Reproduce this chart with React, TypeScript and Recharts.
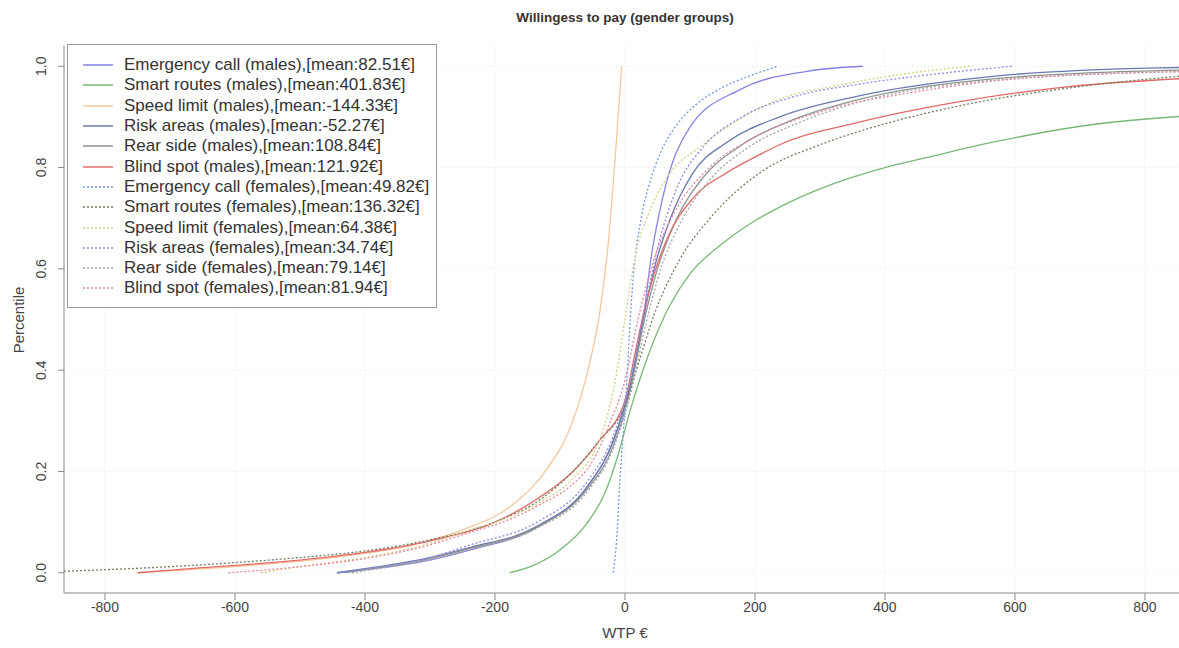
import React from 'react'
import { LineChart, Line, XAxis, YAxis, CartesianGrid } from 'recharts'

if (typeof document !== 'undefined') document.body.style.margin = '0'

// WTP values (x, €) and cumulative percentile (p)
const emergencyCallMales: [number, number][] = [
  [-443, 0], [-400, 0.006], [-300, 0.025], [-238, 0.045], [-135, 0.09], [-58, 0.17], [-18, 0.26],
  [8, 0.37], [28, 0.5], [40, 0.62], [58, 0.74], [100, 0.88], [177, 0.954], [280, 0.99], [366, 1.0],
]
const smartRoutesMales: [number, number][] = [
  [-177, 0], [-140, 0.015], [-100, 0.045], [-60, 0.095], [-30, 0.16], [-10, 0.235], [8, 0.32],
  [25, 0.39], [45, 0.46], [70, 0.53], [100, 0.59], [150, 0.65], [200, 0.695], [238, 0.722],
  [300, 0.758], [400, 0.8], [465, 0.82], [566, 0.85], [720, 0.885], [877, 0.903],
]
const speedLimitMales: [number, number][] = [
  [-750, 0], [-600, 0.012], [-450, 0.03], [-326, 0.055], [-249, 0.085], [-172, 0.135], [-120, 0.205],
  [-80, 0.3], [-55, 0.41], [-38, 0.52], [-25, 0.66], [-15, 0.82], [-5, 1.0],
]
const riskAreasMales: [number, number][] = [
  [-443, 0], [-400, 0.008], [-300, 0.03], [-238, 0.05], [-135, 0.092], [-58, 0.17], [-18, 0.26],
  [8, 0.37], [28, 0.5], [45, 0.6], [70, 0.7], [105, 0.79], [157, 0.85], [238, 0.9], [362, 0.942],
  [566, 0.98], [823, 0.997], [877, 0.998],
]
const rearSideMales: [number, number][] = [
  [-430, 0], [-400, 0.006], [-300, 0.028], [-238, 0.048], [-135, 0.09], [-58, 0.165], [-18, 0.25],
  [8, 0.36], [30, 0.5], [50, 0.6], [80, 0.7], [120, 0.78], [180, 0.845], [260, 0.895], [362, 0.935],
  [566, 0.975], [877, 0.993],
]
const blindSpotMales: [number, number][] = [
  [-750, 0], [-650, 0.01], [-500, 0.025], [-400, 0.04], [-300, 0.063], [-200, 0.1], [-130, 0.15],
  [-80, 0.2], [-40, 0.26], [0, 0.34], [15, 0.43], [30, 0.52], [45, 0.59], [65, 0.66], [105, 0.74],
  [157, 0.79], [208, 0.826], [238, 0.845], [362, 0.89], [515, 0.93], [669, 0.958], [877, 0.977],
]
const emergencyCallFemales: [number, number][] = [
  [-18, 0], [-12, 0.08], [-8, 0.176], [-3, 0.27], [3, 0.38], [8, 0.5], [14, 0.6], [25, 0.7],
  [38, 0.77], [55, 0.83], [80, 0.885], [110, 0.925], [150, 0.958], [190, 0.98], [235, 1.0],
]
const smartRoutesFemales: [number, number][] = [
  [-863, 0.003], [-800, 0.006], [-700, 0.012], [-600, 0.02], [-500, 0.03], [-400, 0.043],
  [-300, 0.065], [-200, 0.1], [-130, 0.145], [-80, 0.2], [-40, 0.26], [0, 0.33], [20, 0.41],
  [45, 0.51], [85, 0.62], [131, 0.7], [208, 0.79], [300, 0.845], [362, 0.872], [515, 0.922],
  [720, 0.963], [877, 0.983],
]
const speedLimitFemales: [number, number][] = [
  [-560, 0], [-500, 0.012], [-400, 0.03], [-300, 0.058], [-238, 0.085], [-188, 0.105], [-130, 0.14],
  [-85, 0.18], [-34, 0.28], [-12, 0.4], [0, 0.5], [15, 0.62], [40, 0.72], [70, 0.79], [115, 0.84],
  [182, 0.9], [238, 0.935], [335, 0.964], [430, 0.985], [530, 1.0],
]
const riskAreasFemales: [number, number][] = [
  [-440, 0], [-400, 0.007], [-300, 0.03], [-238, 0.055], [-135, 0.1], [-58, 0.18], [-18, 0.27],
  [8, 0.38], [30, 0.52], [50, 0.64], [80, 0.76], [120, 0.84], [180, 0.9], [260, 0.94], [362, 0.965],
  [480, 0.985], [595, 1.0],
]
const rearSideFemales: [number, number][] = [
  [-420, 0], [-400, 0.004], [-300, 0.026], [-238, 0.046], [-135, 0.088], [-58, 0.16], [-18, 0.245],
  [8, 0.35], [32, 0.49], [55, 0.6], [85, 0.69], [130, 0.775], [190, 0.84], [270, 0.89], [362, 0.93],
  [566, 0.972], [877, 0.99],
]
const blindSpotFemales: [number, number][] = [
  [-610, 0], [-500, 0.012], [-400, 0.028], [-300, 0.055], [-238, 0.08], [-188, 0.1], [-130, 0.135],
  [-85, 0.17], [-50, 0.22], [-25, 0.29], [0, 0.38], [20, 0.5], [45, 0.62], [80, 0.72], [130, 0.8],
  [200, 0.86], [300, 0.91], [450, 0.95], [600, 0.975], [877, 0.99],
]

const seriesNames = [
  'Emergency call (males),[mean:82.51€]',
  'Smart routes (males),[mean:401.83€]',
  'Speed limit (males),[mean:-144.33€]',
  'Risk areas (males),[mean:-52.27€]',
  'Rear side (males),[mean:108.84€]',
  'Blind spot (males),[mean:121.92€]',
  'Emergency call (females),[mean:49.82€]',
  'Smart routes (females),[mean:136.32€]',
  'Speed limit (females),[mean:64.38€]',
  'Risk areas (females),[mean:34.74€]',
  'Rear side (females),[mean:79.14€]',
  'Blind spot (females),[mean:81.94€]',
]
const seriesValues = [
  emergencyCallMales, smartRoutesMales, speedLimitMales, riskAreasMales, rearSideMales, blindSpotMales,
  emergencyCallFemales, smartRoutesFemales, speedLimitFemales, riskAreasFemales, rearSideFemales, blindSpotFemales,
]
const xTicks = [-800, -600, -400, -200, 0, 200, 400, 600, 800]
const yTicks = [0, 0.2, 0.4, 0.6, 0.8, 1.0]

// line look, first six solid (males), last six dotted (females)
const colors = [
  '#8583e2', '#79b779', '#f4c79c', '#6b78b0', '#8d948d', '#e46a6a',
  '#7497e6', '#6f7f5f', '#d9cd86', '#9388e4', '#a4a4a4', '#e7869b',
]

const font = '"Liberation Sans", Arial, sans-serif'

const YTick = ({ y, payload }: any) => (
  <text x={46} y={y} transform={`rotate(-90 46 ${y})`} textAnchor="middle" fontSize={14} fill="#444" fontFamily={font}>
    {payload.value.toFixed(1)}
  </text>
)

const LegendBox = () => (
  <div style={{ position: 'absolute', left: 67, top: 44, width: 370, height: 264, border: '1px solid #999', background: '#fff', boxSizing: 'border-box', paddingTop: 10 }}>
    {seriesNames.map((name, i) => (
      <div key={name} style={{ display: 'flex', alignItems: 'center', height: 20.3 }}>
        <svg width={56} height={10} style={{ flexShrink: 0 }}>
          <line x1={15} x2={45} y1={5} y2={5} stroke={colors[i]} strokeWidth={1.5} strokeDasharray={i >= 6 ? '2 2' : undefined} />
        </svg>
        <span style={{ fontSize: 17, color: '#333', fontFamily: font, whiteSpace: 'nowrap', lineHeight: '20px' }}>{name}</span>
      </div>
    ))}
  </div>
)

export default function App() {
  return (
    <div style={{ position: 'relative', width: 1179, height: 648, overflow: 'hidden', background: '#fff', fontFamily: font }}>
      <div style={{ position: 'absolute', top: 10, left: 0, width: 1250, textAlign: 'center', fontSize: 13.5, fontWeight: 'bold', color: '#333' }}>
        Willingess to pay (gender groups)
      </div>
      <div style={{ position: 'absolute', top: 624, left: 625, transform: 'translateX(-50%)', fontSize: 15, color: '#444', whiteSpace: 'nowrap' }}>
        WTP €
      </div>
      <div style={{ position: 'absolute', top: 320, left: 18, transform: 'translate(-50%, -50%) rotate(-90deg)', fontSize: 15, color: '#444', whiteSpace: 'nowrap' }}>
        Percentile
      </div>
      <LineChart width={1200} height={648} margin={{ top: 46, right: 5, bottom: 0, left: 0 }}>
        <CartesianGrid stroke="#e6e6e6" strokeDasharray="1 3" horizontalValues={yTicks} verticalValues={xTicks} />
        <XAxis
          type="number"
          dataKey="x"
          domain={[-863, 877]}
          ticks={xTicks}
          allowDataOverflow
          height={55}
          tickSize={7}
          tickMargin={2}
          stroke="#888"
          tick={{ fontSize: 14, fill: '#444', fontFamily: font }}
        />
        <XAxis xAxisId="top" orientation="top" type="number" domain={[-863, 877]} tick={false} tickLine={false} height={0} stroke="#999" />
        <YAxis
          type="number"
          domain={[-0.04, 1.04]}
          ticks={yTicks}
          allowDataOverflow
          width={64}
          tickSize={6}
          stroke="#888"
          tick={<YTick />}
        />
        {seriesValues.map((vals, i) => (
          <Line
            key={seriesNames[i]}
            name={seriesNames[i]}
            data={vals.map(([x, p]) => ({ x, p }))}
            dataKey="p"
            type="monotone"
            stroke={colors[i]}
            strokeWidth={1.3}
            strokeDasharray={i >= 6 ? '2 2' : undefined}
            dot={false}
            activeDot={false}
            isAnimationActive={false}
          />
        ))}
      </LineChart>
      <LegendBox />
    </div>
  )
}
